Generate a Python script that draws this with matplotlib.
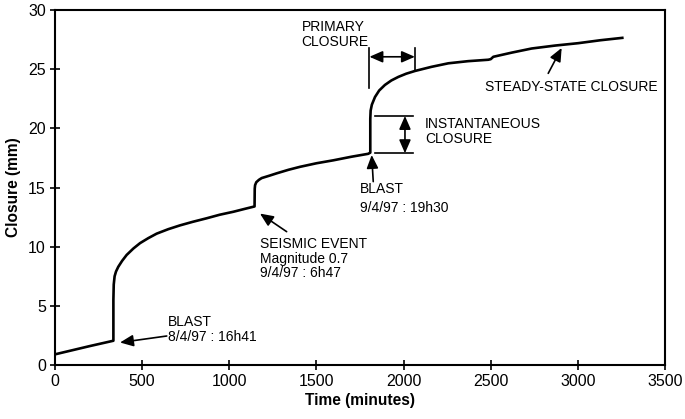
import matplotlib
matplotlib.use("Agg")
import matplotlib.pyplot as plt

plt.rcParams['font.family'] = ['Liberation Sans', 'DejaVu Sans']

# Closure curve (minutes, mm); repeated times are the vertical jumps
time_min = [0, 100, 200, 335, 335, 337, 342, 350, 363, 385, 411, 450, 488, 535, 583,
            650, 717, 790, 870, 945, 1023, 1090, 1145, 1146, 1148, 1155, 1170, 1186,
            1230, 1272, 1340, 1406, 1500, 1597, 1700, 1797, 1809, 1809, 1811, 1818,
            1836, 1860, 1893, 1930, 1970, 2015, 2065, 2160, 2257, 2370, 2486, 2500,
            2515, 2620, 2735, 2870, 3002, 3130, 3255]
closure_mm = [0.9, 1.25, 1.6, 2.05, 5.5, 6.8, 7.5, 7.9, 8.3, 8.8, 9.3, 9.85, 10.3, 10.72, 11.1,
              11.48, 11.8, 12.1, 12.4, 12.7, 12.95, 13.2, 13.4, 14.9, 15.2, 15.45, 15.65, 15.8,
              16.0, 16.2, 16.5, 16.75, 17.05, 17.3, 17.6, 17.85, 17.95, 20.8, 21.5, 22.0,
              22.65, 23.2, 23.67, 24.05, 24.35, 24.62, 24.85, 25.2, 25.5, 25.68, 25.8, 25.85,
              26.05, 26.4, 26.75, 27.0, 27.2, 27.45, 27.65]

x_ticks = [0, 500, 1000, 1500, 2000, 2500, 3000, 3500]
y_ticks = [0, 5, 10, 15, 20, 25, 30]

fig = plt.figure(figsize=(6.85, 4.19), dpi=100)
ax = fig.add_axes([0.0803, 0.1289, 0.8905, 0.8471])

ax.plot(time_min, closure_mm, color='black', lw=1.9, solid_joinstyle='round')

ax.set_xlim(0, 3500)
ax.set_ylim(0, 30)
ax.set_xticks(x_ticks)
ax.set_yticks(y_ticks)
ax.tick_params(direction='inout', length=7, width=1.2, labelsize=11.5, pad=3)
for s in ax.spines.values():
    s.set_linewidth(1.5)

ax.set_xlabel('Time (minutes)', fontsize=11.2, fontweight='bold', labelpad=3)
ax.set_ylabel('Closure (mm)', fontsize=11.2, fontweight='bold', labelpad=5)

fs = 10
arrow = dict(arrowstyle='-|>,head_length=0.8,head_width=0.35', color='black', lw=1.2,
             shrinkA=0, shrinkB=0)
darrow = dict(arrowstyle='<|-|>,head_length=0.8,head_width=0.35', color='black', lw=1.2,
              shrinkA=0, shrinkB=0)

# Blast 1
ax.text(648, 3.0, 'BLAST\n8/4/97 : 16h41', fontsize=fs, va='center', ha='left',
        linespacing=1.05)
ax.annotate('', xy=(373, 1.9), xytext=(641, 2.45), arrowprops=arrow)

# Seismic event
ax.text(1176, 9.0, 'SEISMIC EVENT\nMagnitude 0.7\n9/4/97 : 6h47', fontsize=fs,
        va='center', ha='left', linespacing=1.05)
ax.annotate('', xy=(1176, 12.8), xytext=(1329, 11.27), arrowprops=arrow)

# Blast 2
ax.text(1750, 14.05, 'BLAST\n9/4/97 : 19h30', fontsize=fs, va='center', ha='left',
        linespacing=1.45)
ax.annotate('', xy=(1817, 17.75), xytext=(1826, 15.5), arrowprops=arrow)

# Instantaneous closure
ax.plot([1836, 2056], [21.05, 21.05], color='black', lw=1.2)
ax.plot([1836, 2056], [17.9, 17.9], color='black', lw=1.2)
ax.annotate('', xy=(2008, 21.05), xytext=(2008, 17.9), arrowprops=darrow)
ax.text(2123, 19.7, 'INSTANTANEOUS\nCLOSURE', fontsize=fs, va='center', ha='left',
        linespacing=1.1)

# Primary closure
ax.plot([1804, 1804], [23.4, 26.8], color='black', lw=1.2)
ax.plot([2065, 2065], [24.9, 26.8], color='black', lw=1.2)
ax.annotate('', xy=(1804, 26.05), xytext=(2065, 26.05), arrowprops=darrow)
ax.text(1415, 27.95, 'PRIMARY\nCLOSURE', fontsize=fs, va='center', ha='left',
        linespacing=1.1)

# Steady-state closure
ax.text(2467, 23.5, 'STEADY-STATE CLOSURE', fontsize=fs, va='center', ha='left')
ax.annotate('', xy=(2907, 26.8), xytext=(2830, 24.65), arrowprops=arrow)

fig.savefig('out.png', dpi=100)
